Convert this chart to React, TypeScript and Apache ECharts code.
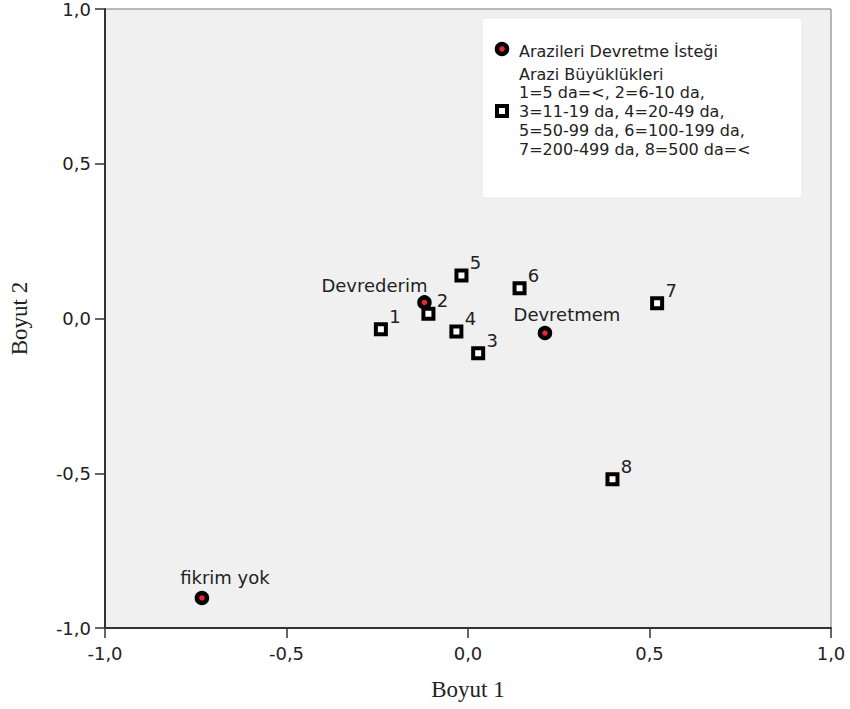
import React, { useEffect, useRef } from 'react';
import * as echarts from 'echarts';

// Category points (Arazileri Devretme İsteği)
const categoryNames = ['Devrederim', 'Devretmem', 'fikrim yok'];
const categoryX = [-0.12, 0.212, -0.733];
const categoryY = [0.052, -0.047, -0.903];

// Land size points (Arazi Büyüklükleri)
const sizeNames = ['1', '2', '3', '4', '5', '6', '7', '8'];
const sizeX = [-0.24, -0.109, 0.028, -0.032, -0.018, 0.142, 0.521, 0.398];
const sizeY = [-0.035, 0.015, -0.112, -0.042, 0.139, 0.098, 0.049, -0.519];

const xAxisTitle = 'Boyut 1';
const yAxisTitle = 'Boyut 2';
const legendTitle1 = 'Arazileri Devretme İsteği';
const legendTitle2Lines = [
  'Arazi Büyüklükleri',
  '1=5 da=<, 2=6-10 da,',
  '3=11-19 da, 4=20-49 da,',
  '5=50-99 da, 6=100-199 da,',
  '7=200-499 da, 8=500 da=<',
];

// label placement (style, not data)
const categoryLabelOffsets = [[-50, -17], [22, -19], [23, -20]];

const SANS = 'DejaVu Sans';
const SERIF = 'Liberation Serif';
const RED = '#e8262b';
const LEGEND_FONT = 16;
const LEGEND_LINE = 18.8;

const fmt = (v: number) => v.toFixed(1).replace('.', ',');

export default function App() {
  const ref = useRef<HTMLDivElement>(null);
  useEffect(() => {
    if (!ref.current) return;
    const chart = echarts.init(ref.current, undefined, { renderer: 'svg' });
    const axisCommon = {
      type: 'value' as const,
      min: -1,
      max: 1,
      interval: 0.5,
      nameLocation: 'middle' as const,
      nameTextStyle: { fontFamily: SERIF, fontSize: 23, color: '#222' },
      axisLine: { show: true, onZero: false, lineStyle: { color: '#333', width: 2 } },
      axisTick: { show: true, inside: false, length: 10, lineStyle: { color: '#333', width: 1.5 } },
      splitLine: { show: false },
    };
    const labelStyle = { formatter: fmt, fontFamily: SANS, fontSize: 18, color: '#222' };
    const legendLines = legendTitle2Lines.map((t, i) => ({
      type: 'text',
      x: 519,
      y: 74 + i * LEGEND_LINE,
      style: {
        text: t,
        fontFamily: SANS,
        fontSize: LEGEND_FONT,
        fill: '#222',
        verticalAlign: 'middle',
      },
      z: 11,
    }));
    chart.setOption({
      animation: false,
      backgroundColor: '#fff',
      grid: {
        left: 103,
        right: 19,
        top: 8,
        bottom: 81,
        show: true,
        backgroundColor: '#f0f0f0',
        borderColor: '#777',
        borderWidth: 1,
      },
      xAxis: { ...axisCommon, name: xAxisTitle, nameGap: 50, axisLabel: { ...labelStyle, margin: 16 } },
      yAxis: { ...axisCommon, name: yAxisTitle, nameGap: 74, axisLabel: { ...labelStyle, margin: 14 } },
      series: [
        {
          type: 'scatter',
          name: legendTitle1,
          symbol: 'circle',
          symbolSize: 10,
          itemStyle: { color: RED, borderColor: '#000', borderWidth: 4.5, opacity: 1 },
          label: {
            show: true,
            formatter: '{b}',
            position: 'inside',
            fontFamily: SANS,
            fontSize: 18,
            color: '#222',
          },
          data: categoryNames.map((n, i) => ({
            name: n,
            value: [categoryX[i], categoryY[i]],
            label: { offset: categoryLabelOffsets[i] },
          })),
          z: 3,
        },
        {
          type: 'scatter',
          name: 'Arazi Büyüklükleri',
          symbol: 'rect',
          symbolSize: 10,
          itemStyle: { color: '#fff', borderColor: '#000', borderWidth: 4, opacity: 1 },
          label: {
            show: true,
            formatter: '{b}',
            position: 'inside',
            offset: [14, -13],
            fontFamily: SANS,
            fontSize: 18,
            color: '#222',
          },
          data: sizeNames.map((n, i) => ({ name: n, value: [sizeX[i], sizeY[i]] })),
          z: 2,
        },
      ],
      graphic: [
        {
          type: 'rect',
          shape: { x: 483, y: 19, width: 318, height: 178 },
          style: { fill: '#fff' },
          z: 10,
        },
        {
          type: 'circle',
          shape: { cx: 502, cy: 49, r: 5 },
          style: { fill: RED, stroke: '#000', lineWidth: 4.5 },
          z: 11,
        },
        {
          type: 'text',
          x: 519,
          y: 51,
          style: {
            text: legendTitle1,
            fontFamily: SANS,
            fontSize: LEGEND_FONT,
            fill: '#222',
            verticalAlign: 'middle',
          },
          z: 11,
        },
        {
          type: 'rect',
          shape: { x: 497, y: 106, width: 10, height: 10 },
          style: { fill: '#fff', stroke: '#000', lineWidth: 4 },
          z: 11,
        },
        ...legendLines,
      ],
    });
    return () => chart.dispose();
  }, []);
  return (
    <div
      ref={ref}
      style={{ position: 'fixed', left: 0, top: 0, width: 850, height: 709 }}
    />
  );
}
